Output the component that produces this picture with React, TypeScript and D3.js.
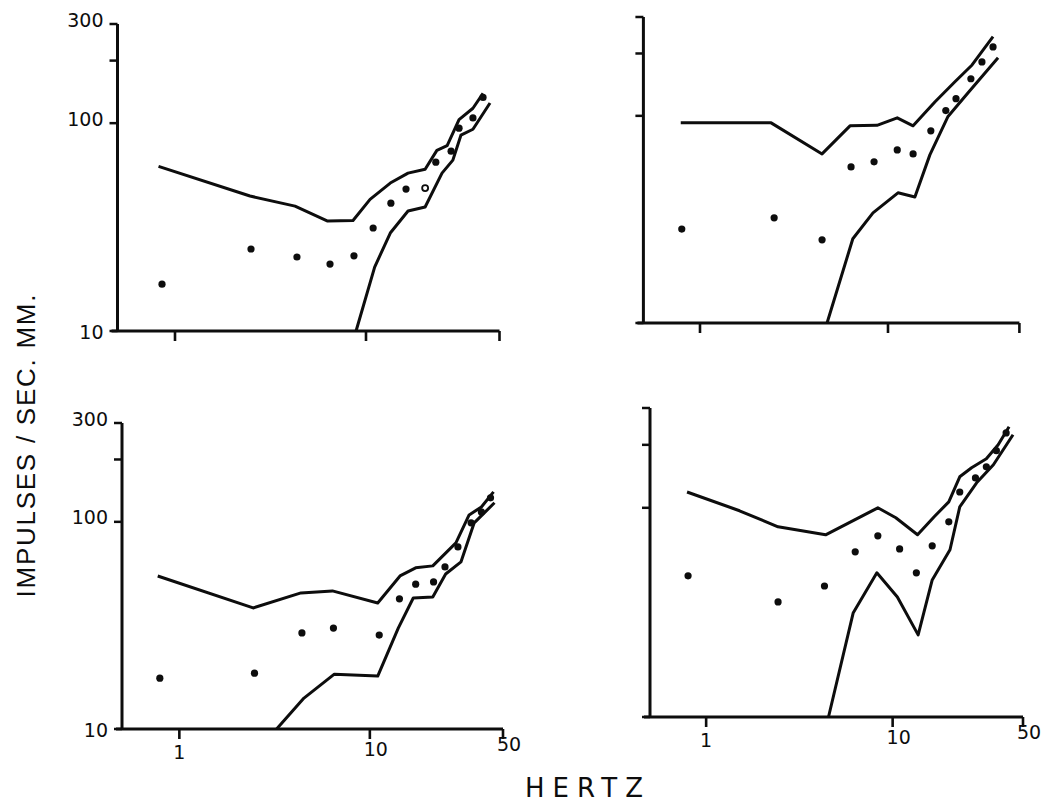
import * as d3 from 'd3'

// frequency (Hz) and rate (impulses / sec. mm) ticks
const hzTicks = [1, 10, 50]
const rateTicks = [10, 100, 200, 300]
const rateLabels = [10, 100, 300]

// top left
const aUpper: [number, number][] = [[0.82, 62], [2.47, 44.6], [4.25, 39.9], [6.3, 33.8], [8.55, 34], [10.5, 43], [13.4, 51.5], [16.6, 57.5], [20.4, 60], [23.5, 74], [26.6, 78], [30.7, 104], [36.3, 118], [41, 139]]
const aLower: [number, number][] = [[8.87, 10], [11.1, 20.3], [13.4, 29.6], [16.6, 37.8], [20.4, 39.5], [25, 57.5], [28.5, 66.4], [31.4, 87.5], [36.3, 93.5], [44.6, 125]]
const aDots: [number, number][] = [[0.855, 16.8], [2.5, 24.8], [4.35, 22.7], [6.48, 21], [8.65, 23], [10.9, 31.3], [13.5, 41.2], [16.2, 48.2], [23.2, 64.9], [27.9, 73.3], [30.7, 94.6], [36.3, 106], [41, 133]]
const aOpen: [number, number][] = [[20.4, 48.7]]

// top right
const bUpper: [number, number][] = [[0.79, 92.5], [2.39, 92.5], [4.46, 65.5], [6.28, 89.5], [8.74, 90], [11.2, 97.8], [13.6, 89.5], [17.8, 117], [22.7, 146], [28, 176], [36.2, 241]]
const bLower: [number, number][] = [[4.74, 10], [6.5, 25.5], [8.32, 34], [11.3, 42.5], [13.9, 40.6], [16.7, 64.8], [20.8, 98.9], [26.6, 129], [38.5, 190.6]]
const bDots: [number, number][] = [[0.8, 28.4], [2.48, 32.2], [4.46, 25.2], [6.36, 56.7], [8.43, 60], [11.2, 68.5], [13.6, 65.5], [16.9, 84.7], [20.3, 106], [23, 121], [27.6, 151], [31.6, 182], [36.2, 215]]

// bottom left
const cUpper: [number, number][] = [[0.77, 54.8], [2.44, 38.4], [4.35, 45.4], [6.36, 46.4], [11, 40.6], [14.4, 54.8], [17.4, 60], [21.4, 61.3], [28.3, 79.2], [33.2, 108], [38.5, 118], [44.6, 139.6]]
const cLower: [number, number][] = [[3.24, 10], [4.51, 14.1], [6.51, 18.4], [11, 18], [14.1, 30.7], [16.9, 42.9], [21.4, 43.4], [25, 56], [30.1, 64.1], [35.3, 98.9], [45.1, 123.6]]
const cDots: [number, number][] = [[0.79, 17.6], [2.48, 18.6], [4.4, 29.1], [6.44, 30.7], [11.2, 28.4], [14.3, 42.5], [17.4, 50], [21.6, 51.3], [24.8, 60.6], [29, 75.7], [34, 98.9], [38.5, 111.7], [43, 130.6]]

// bottom right
const dUpper: [number, number][] = [[0.79, 119], [1.51, 96.8], [2.43, 81.1], [4.37, 74.3], [8.33, 100], [10.4, 89.6], [13.6, 74.3], [16.7, 90.6], [20, 106.8], [22.9, 140.7], [26.5, 155.4], [31.8, 171.5], [36.8, 200], [42.1, 244]]
const dLower: [number, number][] = [[4.53, 10], [6.14, 31.4], [8.23, 48.9], [10.6, 37.5], [13.7, 24.7], [16.3, 45.2], [20.3, 63], [22.9, 101], [28.2, 131.7], [34.7, 160.6], [44.2, 223.6]]
const dDots: [number, number][] = [[0.8, 47.3], [2.43, 35.5], [4.31, 42.3], [6.3, 61.6], [8.33, 73.5], [10.9, 63.6], [13.4, 48.9], [16.3, 65.8], [20, 85.7], [22.9, 119], [27.8, 139], [31.8, 157], [36, 187.5], [40.6, 228]]

const panels = [
  { upper: aUpper, lower: aLower, dots: aDots, open: aOpen, xr: [117.5, 499.5], yr: [331, 24], yLab: true, xLab: false },
  { upper: bUpper, lower: bLower, dots: bDots, open: [], xr: [643.4, 1019.4], yr: [323, 17], yLab: false, xLab: false },
  { upper: cUpper, lower: cLower, dots: cDots, open: [], xr: [122, 503], yr: [729, 423], yLab: true, xLab: true },
  { upper: dUpper, lower: dLower, dots: dDots, open: [], xr: [650, 1023], yr: [717, 408], yLab: false, xLab: true },
]

const ink = '#0d0d0d'
const font = '"DejaVu Sans", sans-serif'

function Panel({ p }: { p: any }) {
  const x = d3.scaleLog().domain([0.5, 50]).range(p.xr)
  const y = d3.scaleLog().domain([10, 300]).range(p.yr)
  const line = d3.line<[number, number]>().x(d => x(d[0])).y(d => y(d[1]))
  const x0 = x.range()[0]
  const yb = y(10)
  return (
    <g>
      {/* axes */}
      <line x1={x0} x2={x0} y1={y(300)} y2={yb} stroke={ink} strokeWidth={3} />
      <line x1={x0 - 6} x2={x(50)} y1={yb} y2={yb} stroke={ink} strokeWidth={3} />
      {rateTicks.map(t => (
        <line key={t} x1={x0 - 8} x2={x0} y1={y(t)} y2={y(t)} stroke={ink} strokeWidth={2.5} />
      ))}
      {hzTicks.map(t => (
        <line key={t} x1={x(t)} x2={x(t)} y1={yb} y2={yb + 10} stroke={ink} strokeWidth={2.6} />
      ))}
      {p.yLab && rateLabels.map(t => (
        <text key={t} x={x0 - 14} y={y(t) + (t === 10 ? 2 : -3)} textAnchor="end"
          fontFamily={font} fontSize={19} fill={ink} dominantBaseline="middle">{t}</text>
      ))}
      {p.xLab && hzTicks.map(t => (
        <text key={t} x={x(t) + (t === 1 ? 0 : 6)} y={yb + (t === 1 ? 30 : t === 10 ? 27 : 22)} textAnchor="middle"
          fontFamily={font} fontSize={19} fill={ink}>{t}</text>
      ))}
      {/* envelope and points */}
      <path d={line(p.upper) ?? ''} fill="none" stroke={ink} strokeWidth={3} strokeLinejoin="round" />
      <path d={line(p.lower) ?? ''} fill="none" stroke={ink} strokeWidth={3} strokeLinejoin="round" />
      {p.dots.map((d: [number, number], i: number) => (
        <circle key={i} cx={x(d[0])} cy={y(d[1])} r={3.6} fill={ink} />
      ))}
      {p.open.map((d: [number, number], i: number) => (
        <circle key={'o' + i} cx={x(d[0])} cy={y(d[1])} r={3} fill="#fff" stroke={ink} strokeWidth={1.8} />
      ))}
    </g>
  )
}

export default function App() {
  return (
    <svg width={1049} height={808} style={{ position: 'absolute', left: 0, top: 0, background: '#fff' }}>
      {panels.map((p, i) => <Panel key={i} p={p} />)}
      <text transform="translate(35,446) rotate(-90)" textAnchor="middle" fontFamily={'"Liberation Sans", sans-serif'}
        fontSize={26} fill={ink} textLength={303} lengthAdjust="spacing">IMPULSES / SEC. MM.</text>
      <text x={584} y={797} textAnchor="middle" fontFamily={font} fontSize={26} fill={ink}
        textLength={118} lengthAdjust="spacing">HERTZ</text>
    </svg>
  )
}
